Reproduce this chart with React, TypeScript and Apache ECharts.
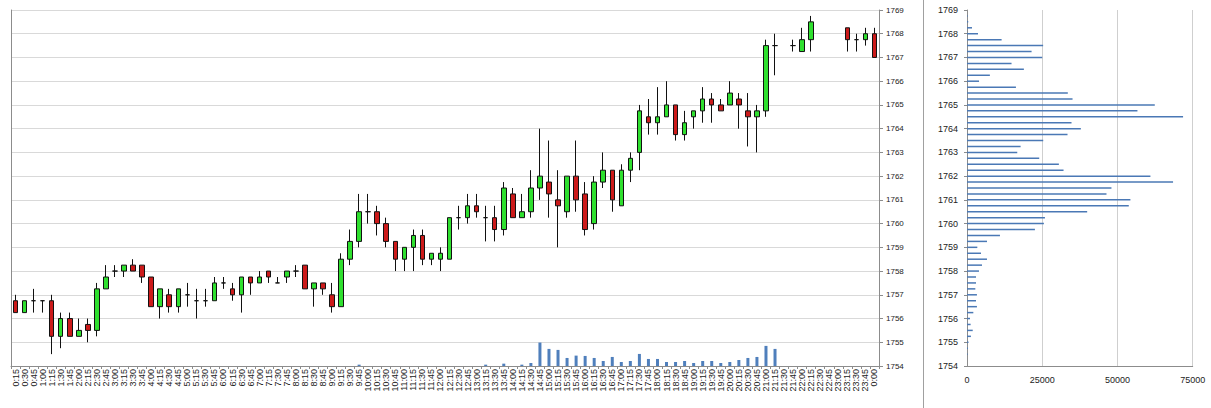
import React, { useEffect, useRef } from "react";
import * as echarts from "echarts";

const times = [
  "0:15","0:30","0:45","1:00","1:15","1:30","1:45","2:00","2:15","2:30","2:45","3:00",
  "3:15","3:30","3:45","4:00","4:15","4:30","4:45","5:00","5:15","5:30","5:45","6:00",
  "6:15","6:30","6:45","7:00","7:15","7:30","7:45","8:00","8:15","8:30","8:45","9:00",
  "9:15","9:30","9:45","10:00","10:15","10:30","10:45","11:00","11:15","11:30","11:45","12:00",
  "12:15","12:30","12:45","13:00","13:15","13:30","13:45","14:00","14:15","14:30","14:45","15:00",
  "15:15","15:30","15:45","16:00","16:15","16:30","16:45","17:00","17:15","17:30","17:45","18:00",
  "18:15","18:30","18:45","19:00","19:15","19:30","19:45","20:00","20:15","20:30","20:45","21:00",
  "21:15","21:30","21:45","22:00","22:15","22:30","22:45","23:00","23:15","23:30","23:45","0:00",
];

const opens = [
  1756.75,1756.25,1756.75,1756.75,1756.75,1755.25,1756,1755.25,1755.75,1755.5,1757.25,1758,
  1758,1758.25,1758.25,1757.75,1756.5,1757,1756.5,1757,1756.75,1756.75,1756.75,1757.5,
  1757.25,1757,1757.75,1757.5,1758,1757.5,1757.75,1758,1758.25,1757.25,1757.5,1757,
  1756.5,1758.5,1759.25,1760.5,1760.5,1760,1759.25,1758.5,1759,1759.5,1758.5,1758.5,
  1758.5,1760.25,1760.25,1760.75,1760.25,1760.25,1759.75,1761.25,1760.25,1760.5,1761.5,1761.75,
  1761,1760.5,1762,1761.25,1760,1761.75,1762.25,1760.75,1762.25,1763,1764.5,1764.25,
  1764.5,1765,1763.75,1764.5,1764.75,1765.25,1765,1765,1765.25,1764.75,1764.5,1764.75,
  1767.5,null,1767.5,1767.25,1767.75,null,null,null,1768.25,1767.75,1767.75,1768,
];
const highs = [
  1757,1756.75,1757.25,1756.75,1757,1756.25,1756.25,1756,1756,1757.5,1758.25,1758.25,
  1758.25,1758.5,1758.25,1757.75,1757.25,1757.25,1757.25,1757.5,1757.25,1757.25,1757.75,1757.75,
  1757.5,1757.75,1757.75,1758,1758,1757.75,1758,1758.25,1758.25,1757.5,1757.5,1757.5,
  1758.75,1759.75,1761.25,1761.25,1760.75,1760.25,1759.25,1759,1759.75,1759.75,1758.75,1759,
  1760.25,1760.75,1761.25,1761.25,1760.75,1760.75,1761.75,1761.5,1761.25,1762.25,1764,1763.5,
  1762.25,1762,1763.5,1761.75,1762,1763,1762.25,1762.5,1763,1765,1765.25,1765.75,
  1766,1765,1764.75,1764.75,1765.75,1765.5,1765.25,1766,1765.5,1765.5,1765,1767.75,
  1768,null,1767.75,1768.25,1768.75,null,null,null,1768.25,1768,1768.25,1768.25,
];
const lows = [
  1756.25,1756.25,1756.25,1756.25,1754.5,1754.75,1755.25,1755.25,1755,1755.25,1757.25,1757.75,
  1757.75,1758,1757.5,1756.5,1756,1756.25,1756.25,1756.5,1756,1756.5,1756.75,1757.25,
  1756.75,1756.25,1757,1757.5,1757.5,1757.5,1757.5,1757.75,1757.25,1756.5,1757,1756.25,
  1756.5,1758.25,1759,1760,1759.5,1759,1758,1758,1758,1758.25,1758.25,1758,
  1758.5,1759.75,1760,1760.25,1759.25,1759.25,1759.5,1760.25,1760.25,1760.25,1761,1760.25,
  1759,1760.25,1760.5,1759.5,1759.75,1761.5,1760.5,1760.75,1761.75,1762.25,1763.75,1763.75,
  1764.5,1763.5,1763.5,1764,1764.25,1764.25,1764.75,1765,1764,1763.25,1763,1764.5,
  1766.25,null,1767.25,1767.25,1767.25,null,null,null,1767.25,1767.25,1767.5,1767,
];
const closes = [
  1756.25,1756.75,1756.75,1756.75,1755.25,1756,1755.25,1755.5,1755.5,1757.25,1757.75,1758,
  1758.25,1758,1757.75,1756.5,1757.25,1756.5,1757.25,1757,1756.75,1756.75,1757.5,1757.5,
  1757,1757.75,1757.5,1757.75,1757.75,1757.5,1758,1758,1757.25,1757.5,1757.25,1756.5,
  1758.5,1759.25,1760.5,1760.5,1760,1759.25,1758.5,1759,1759.5,1758.5,1758.75,1758.75,
  1760.25,1760.25,1760.75,1760.5,1760.25,1759.75,1761.5,1760.25,1760.5,1761.5,1762,1761.25,
  1760.75,1762,1761,1759.75,1761.75,1762.25,1761,1762.25,1762.75,1764.75,1764.25,1764.5,
  1765,1763.75,1764.25,1764.75,1765.25,1765,1764.75,1765.5,1765,1764.5,1764.75,1767.5,
  1767.5,null,1767.5,1767.75,1768.5,null,null,null,1767.75,1767.75,1768,1767,
];

const volumes = [
  0,0,0,0,0,0,0,0,0,0,0,0,
  0,0,0,0,0,0,0,0,0,0,0,0,
  0,0,0,0,0,0,0,0,0,0,0,0,
  0,0,6400,0,0,0,0,0,0,0,0,0,
  0,0,0,0,6400,0,11200,0,6400,14400,112000,81600,
  76800,38400,49600,48000,38400,24000,43200,19200,24000,57600,33600,33600,
  19200,19200,24000,14400,24000,24000,14400,19200,28800,38400,43200,96000,
  81600,0,0,0,0,0,0,0,0,0,0,0,
];

const profilePrices = [
  "1754","1754.25","1754.5","1754.75","1755","1755.25","1755.5","1755.75",
  "1756","1756.25","1756.5","1756.75","1757","1757.25","1757.5","1757.75",
  "1758","1758.25","1758.5","1758.75","1759","1759.25","1759.5","1759.75",
  "1760","1760.25","1760.5","1760.75","1761","1761.25","1761.5","1761.75",
  "1762","1762.25","1762.5","1762.75","1763","1763.25","1763.5","1763.75",
  "1764","1764.25","1764.5","1764.75","1765","1765.25","1765.5","1765.75",
  "1766","1766.25","1766.5","1766.75","1767","1767.25","1767.5","1767.75",
  "1768","1768.25","1768.5","1768.75","1769",
];
const profileVolumes = [
  0,0,200,300,500,1300,1900,1200,
  1000,2100,3300,3000,3300,2770,3000,3000,
  3980,4980,6640,4650,3430,6640,10950,22570,
  25550,25900,39930,53760,54300,46350,48000,68470,
  60950,32080,30530,24000,16700,17810,25330,33400,
  37830,34730,71800,56640,62400,35070,33500,16260,
  4000,7600,18900,14800,25000,21460,25300,11500,
  3650,1660,400,200,0,
];

const FONT = "Liberation Sans, Arial, sans-serif";
const AXIS_GRAY = "#8c8c8c";

export default function App() {
  const ref = useRef<HTMLDivElement>(null);
  useEffect(() => {
    if (!ref.current) return;
    const chart = echarts.init(ref.current, undefined, { renderer: "svg" });
    const candles = opens.map((o, i) =>
      o === null ? "-" : [o, closes[i], lows[i], highs[i]]
    );
    chart.setOption({
      animation: false,
      backgroundColor: "#ffffff",
      textStyle: { fontFamily: FONT },
      grid: [
        { left: 11, top: 10, width: 868, height: 356 },
        { left: 967, top: 10, width: 225.7, height: 356 },
      ],
      xAxis: [
        {
          type: "category",
          gridIndex: 0,
          data: times,
          boundaryGap: true,
          axisLine: { onZero: false, lineStyle: { color: AXIS_GRAY } },
          axisTick: { show: true, length: 3, interval: 0, lineStyle: { color: AXIS_GRAY } },
          axisLabel: {
            interval: 0,
            rotate: 90,
            fontSize: 9,
            margin: 3,
            color: "#222",
            fontFamily: FONT,
          },
          splitLine: { show: false },
        },
        {
          type: "value",
          gridIndex: 1,
          min: 0,
          max: 75000,
          interval: 25000,
          axisLine: { show: true, onZero: false, lineStyle: { color: AXIS_GRAY } },
          axisTick: { show: false },
          axisLabel: {
            fontSize: 9,
            margin: 9,
            color: "#222",
            fontFamily: FONT,
            formatter: (v: number) => String(v),
          },
          splitLine: { show: true, lineStyle: { color: "#cfcfcf" } },
        },
      ],
      yAxis: [
        {
          type: "value",
          gridIndex: 0,
          position: "right",
          min: 1754,
          max: 1769,
          interval: 1,
          axisLine: { show: true, lineStyle: { color: AXIS_GRAY } },
          axisTick: { show: true, length: 4, lineStyle: { color: AXIS_GRAY } },
          axisLabel: {
            fontSize: 8,
            margin: 7,
            color: "#222",
            fontFamily: FONT,
            formatter: (v: number) => String(v),
          },
          splitLine: { show: true, lineStyle: { color: "#d9d9d9" } },
        },
        {
          type: "value",
          gridIndex: 0,
          position: "left",
          min: 0,
          max: 1700000,
          axisLine: { show: true, lineStyle: { color: AXIS_GRAY } },
          axisTick: { show: false },
          axisLabel: { show: false },
          splitLine: { show: false },
        },
        {
          type: "category",
          gridIndex: 1,
          data: profilePrices,
          boundaryGap: false,
          axisLine: { show: true, onZero: false, lineStyle: { color: AXIS_GRAY } },
          axisTick: { show: true, length: 3, interval: 3, lineStyle: { color: AXIS_GRAY } },
          axisLabel: {
            interval: 3,
            fontSize: 9,
            margin: 9,
            color: "#222",
            fontFamily: FONT,
            formatter: (v: string) => String(Math.round(Number(v))),
          },
          splitLine: { show: false },
        },
      ],
      series: [
        {
          type: "bar",
          xAxisIndex: 0,
          yAxisIndex: 1,
          data: volumes,
          barWidth: 3,
          itemStyle: { color: "#4f7fbc" },
        },
        {
          type: "candlestick",
          xAxisIndex: 0,
          yAxisIndex: 0,
          data: candles,
          barWidth: 5,
          itemStyle: {
            color: "#2fe02f",
            color0: "#cc1a1a",
            borderColor: "#111",
            borderColor0: "#111",
            borderWidth: 1,
          },
        },
        {
          type: "bar",
          xAxisIndex: 1,
          yAxisIndex: 2,
          data: profileVolumes,
          barWidth: 1.5,
          itemStyle: { color: "#4a78b5" },
        },
      ],
      graphic: [
        {
          type: "line",
          shape: { x1: 923.5, y1: 0, x2: 923.5, y2: 408 },
          style: { stroke: "#a0a0a0", lineWidth: 1 },
        },
      ],
    });
    return () => chart.dispose();
  }, []);
  return (
    <div
      ref={ref}
      style={{ position: "fixed", left: 0, top: 0, width: 1211, height: 408 }}
    />
  );
}
